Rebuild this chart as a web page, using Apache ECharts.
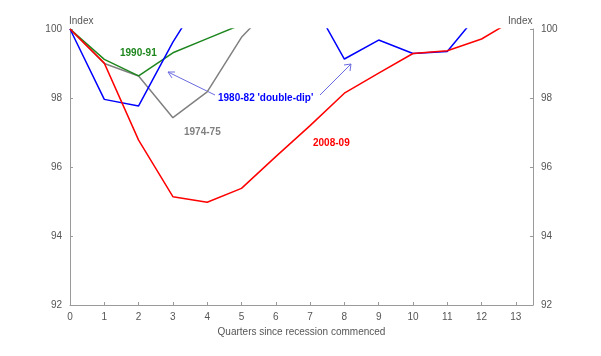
<!DOCTYPE html>
<html><head><meta charset="utf-8">
<script src="https://cdn.jsdelivr.net/npm/echarts@6/dist/echarts.min.js"></script>
<style>html,body{margin:0;padding:0;background:#fff}#c{width:601px;height:356px}</style>
</head><body><div id="c"></div>
<script>
var quarters = [0,1,2,3,4,5,6,7,8,9,10,11,12,13];
var s2008 = [100,99.01,96.78,95.14,94.98,95.38,96.3,97.2,98.14,98.72,99.29,99.37,99.71,100.3];
var s1980 = [100,97.96,97.77,99.62,101.2,101.6,101.5,100.9,99.13,99.68,99.29,99.35,100.55];
var s1974 = [100,99.0,98.64,97.43,98.18,99.76,100.8];
var s1990 = [100,99.12,98.64,99.31,99.72,100.13];
var yTicks = [92,94,96,98,100];

function pairs(v){ return v.map(function(y,i){ return [quarters[i], y]; }); }
var font = 'Liberation Sans, Arial, sans-serif';
var axisCol = '#9a9a9a';
var txtCol = '#555555';
var chart = echarts.init(document.getElementById('c'));
function yAxis(pos){
  return {type:'value', position:pos, min:yTicks[0], max:yTicks[yTicks.length-1], interval:2,
    axisLine:{show:true, lineStyle:{color:axisCol}},
    axisTick:{show:true, inside:true, length:3, lineStyle:{color:axisCol}},
    splitLine:{show:false},
    axisLabel:{color:txtCol, fontFamily:font, fontSize:10, margin:8}};
}
function ser(name, data, color, z){
  return {name:name, type:'line', data:pairs(data), symbol:'none', clip:true, z:z,
    lineStyle:{color:color, width:1.5}, animation:false};
}
chart.setOption({
  animation:false,
  grid:{left:70, right:68, top:29, bottom:51},
  xAxis:{type:'value', min:0, max:13.5, interval:1,
    axisLine:{lineStyle:{color:axisCol}},
    axisTick:{inside:true, length:3, lineStyle:{color:axisCol}},
    splitLine:{show:false},
    axisLabel:{color:txtCol, fontFamily:font, fontSize:10, margin:7, showMaxLabel:false,
      formatter:function(v){ return (v%1===0)? String(v) : ''; }},
    name:'Quarters since recession commenced', nameLocation:'middle', nameGap:21,
    nameTextStyle:{color:txtCol, fontFamily:font, fontSize:10}},
  yAxis:[yAxis('left'), yAxis('right')],
  series:[ser('1974-75', s1974, '#808080', 2), ser('1990-91', s1990, '#1e861e', 3),
          ser('1980-82', s1980, '#0000ff', 4), ser('2008-09', s2008, '#ff0000', 5)],
  graphic:[
    {type:'text', left:69, top:16, style:{text:'Index', fill:txtCol, font:'10px '+font}},
    {type:'text', left:508, top:16, style:{text:'Index', fill:txtCol, font:'10px '+font}},
    {type:'text', left:120, top:48, style:{text:'1990-91', fill:'#1e861e', font:'bold 10px '+font}},
    {type:'text', left:218, top:93, style:{text:"1980-82 'double-dip'", fill:'#0000ff', font:'bold 10px '+font}},
    {type:'text', left:184, top:127, style:{text:'1974-75', fill:'#808080', font:'bold 10px '+font}},
    {type:'text', left:313, top:138, style:{text:'2008-09', fill:'#ff0000', font:'bold 10px '+font}},
    {type:'line', shape:{x1:215, y1:95, x2:168, y2:72}, style:{stroke:'#6a6ae0', lineWidth:1}},
    {type:'polyline', shape:{points:[[175,72],[168,72],[172,78]]}, style:{stroke:'#6a6ae0', lineWidth:1, fill:null}},
    {type:'line', shape:{x1:320, y1:95, x2:351, y2:64}, style:{stroke:'#6a6ae0', lineWidth:1}},
    {type:'polyline', shape:{points:[[344,65],[351,64],[350,71]]}, style:{stroke:'#6a6ae0', lineWidth:1, fill:null}}
  ]
});
</script></body></html>
